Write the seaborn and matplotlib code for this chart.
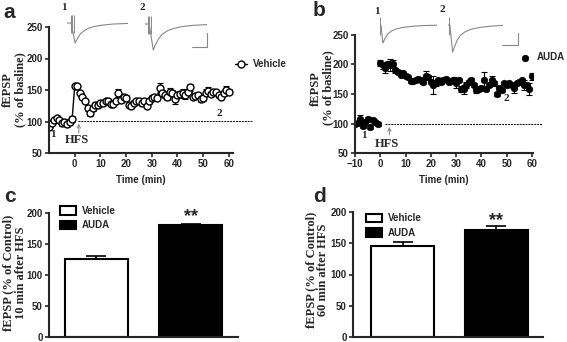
import pandas as pd
import seaborn as sns
import matplotlib.pyplot as plt

W, H = 567, 342  # figure size in pixels

# ---- panel a: Vehicle, fEPSP (% of baseline), one point per minute ----
veh_time = list(range(-10, 61))
veh_mean = [92, 97, 103, 105, 102, 97, 100, 96, 100, 104,
            156, 156, 145, 139, 132, 121, 113, 121, 126, 126,
            129, 129, 132, 132, 127, 128, 132, 145, 134, 139,
            138, 126, 125, 129, 133, 132, 129, 132, 125, 132,
            137, 139, 137, 153, 145, 142, 139, 147, 145, 135,
            142, 144, 145, 142, 147, 154, 139, 140, 142, 135,
            137, 146, 149, 144, 147, 147, 142, 139, 145, 150, 147]
veh_sem = [5, 3, 3, 3, 3, 4, 4, 5, 4, 4,
           3, 3, 3, 3, 3, 4, 4, 4, 3, 3,
           3, 3, 3, 3, 3, 3, 3, 6, 4, 5,
           4, 3, 3, 3, 3, 4, 4, 4, 4, 4,
           4, 3, 3, 8, 5, 5, 5, 6, 5, 8,
           5, 5, 7, 6, 5, 5, 3, 3, 4, 4,
           4, 6, 5, 4, 4, 3, 3, 3, 4, 6, 4]

# ---- panel b: AUDA ----
auda_time = list(range(-10, 61))
auda_mean = [100, 101, 108, 95, 103, 108, 94, 106, 103, 99,
             203, 199, 194, 201, 199, 201, 190, 187, 183, 185,
             180, 178, 172, 172, 173, 176, 173, 170, 181, 178,
             170, 165, 168, 173, 170, 173, 176, 170, 172, 174,
             168, 173, 159, 158, 165, 170, 173, 165, 156, 158,
             160, 173, 158, 165, 174, 168, 150, 160, 156, 168,
             166, 168, 165, 160, 168, 170, 173, 165, 166, 158, 180]
auda_sem = [3, 3, 6, 3, 3, 3, 4, 3, 3, 3,
            5, 6, 8, 5, 10, 6, 4, 3, 3, 3,
            3, 3, 3, 3, 3, 3, 3, 3, 8, 4,
            3, 15, 5, 3, 3, 3, 3, 3, 3, 4,
            8, 3, 5, 8, 5, 3, 4, 3, 4, 3,
            4, 15, 3, 3, 6, 4, 3, 3, 3, 3,
            4, 3, 3, 8, 3, 3, 3, 8, 3, 10, 6]

# ---- panels c/d: summary bars ----
groups = ['Vehicle', 'AUDA']
ltp10_mean = [126, 180]
ltp10_sem = [4.5, 3]
ltp60_mean = [145, 172]
ltp60_sem = [7, 6]

# ---- example fEPSP traces (arbitrary units) ----
trace_a_t = [0, 4, 6, 8, 10, 13, 17, 22, 28, 36, 46, 60]
trace_a1_v = [0, 0, -0.5, -1.0, -0.8, -0.55, -0.38, -0.25, -0.16, -0.1, -0.05, -0.02]
trace_a2_v = [0, 0, -0.65, -1.3, -1.05, -0.75, -0.5, -0.33, -0.22, -0.13, -0.07, -0.03]
trace_b_t = [0, 1, 3, 5, 8, 12, 17, 24, 33, 45, 60]
trace_b1_v = [0, 0, -0.9, -0.7, -0.45, -0.3, -0.2, -0.12, -0.07, -0.03, -0.01]
trace_b2_t = [0, 2, 5, 7, 10, 14, 19, 26, 35, 46, 60]
trace_b2_v = [0, 0, -1.35, -1.1, -0.75, -0.5, -0.33, -0.2, -0.12, -0.06, -0.02]

sns.set_style("ticks")
plt.rcParams['font.family'] = ['Liberation Sans', 'DejaVu Sans']
plt.rcParams['font.weight'] = 'bold'
serif = dict(family='Liberation Serif', weight='bold')


def box(x0, y0, x1, y1):
    return [x0 / W, 1 - y1 / H, (x1 - x0) / W, (y1 - y0) / H]


def style(ax):
    sns.despine(ax=ax)
    for s in ['left', 'bottom']:
        ax.spines[s].set_linewidth(1.5)
    ax.tick_params(direction='out', length=3, width=1.2, labelsize=7, pad=1.5)
    for lab in ax.get_xticklabels() + ax.get_yticklabels():
        lab.set_fontweight('bold')


fig = plt.figure(figsize=(W / 100, H / 100), dpi=100)
ax_a = fig.add_axes(box(49, 27, 233, 153))
ax_b = fig.add_axes(box(355, 35, 533, 153))
ax_c = fig.add_axes(box(49, 213, 238, 337))
ax_d = fig.add_axes(box(353, 212, 543, 337))

# panel a
veh = pd.DataFrame({'time': veh_time, 'fepsp': veh_mean})
ax_a.errorbar(veh_time, veh_mean, yerr=veh_sem, fmt='none', ecolor='black',
              elinewidth=0.8, capsize=2, capthick=0.8, zorder=1)
sns.lineplot(data=veh, x='time', y='fepsp', ax=ax_a, color='black', lw=1,
             marker='o', markersize=5, markerfacecolor='white',
             markeredgecolor='black', markeredgewidth=1, label='Vehicle', zorder=2)
ax_a.set_xlim(-10, 61.6)
ax_a.set_ylim(50, 250)
ax_a.set_xticks(range(0, 61, 10))
ax_a.set_yticks(range(50, 251, 50))
ax_a.plot([1.2, 69], [101, 101], ls=(0, (2, 1)), lw=0.7, color='black', clip_on=False)
ax_a.annotate('', xy=(1.6, 101), xytext=(1.6, 77),
              arrowprops=dict(arrowstyle='->', color='gray', lw=0.7, mutation_scale=6))
ax_a.text(1.0, 71, 'HFS', ha='center', va='center', fontsize=9, **serif)
ax_a.text(-8.5, 80, '1', ha='center', va='center', fontsize=8, **serif)
ax_a.text(56.4, 112, '2', ha='center', va='center', fontsize=8, **serif)
ax_a.legend(loc='center left', bbox_to_anchor=(1.01, 0.706), frameon=False,
            fontsize=7, handlelength=1.3, handletextpad=0.6, borderpad=0,
            borderaxespad=0)
ax_a.set_xlabel('Time (min)', fontsize=7, fontweight='bold', labelpad=4)
ax_a.set_ylabel('fEPSP\n(% of basline)', fontsize=9, linespacing=1.05, **serif)
ax_a.yaxis.set_label_coords(-0.125, 0.5)
style(ax_a)

# panel b
auda = pd.DataFrame({'time': auda_time, 'fepsp': auda_mean})
ax_b.errorbar(auda_time, auda_mean, yerr=auda_sem, fmt='none', ecolor='black',
              elinewidth=0.8, capsize=2, capthick=0.8, zorder=1)
sns.scatterplot(data=auda, x='time', y='fepsp', ax=ax_b, color='black', s=22,
                edgecolor='black', linewidth=0.5, label='AUDA', zorder=2)
ax_b.set_xlim(-10, 60.4)
ax_b.set_ylim(50, 250)
ax_b.set_xticks(range(-10, 61, 10))
ax_b.set_yticks(range(50, 251, 50))
ax_b.plot([2, 64], [99, 99], ls=(0, (2, 1)), lw=0.7, color='black', clip_on=False)
ax_b.annotate('', xy=(3.6, 99), xytext=(3.6, 76),
              arrowprops=dict(arrowstyle='->', color='gray', lw=0.7, mutation_scale=6))
ax_b.text(2.8, 66, 'HFS', ha='center', va='center', fontsize=9, **serif)
ax_b.text(-6.3, 80, '1', ha='center', va='center', fontsize=8, **serif)
ax_b.text(50, 142, '2', ha='center', va='center', fontsize=8, **serif)
ax_b.legend(loc='center left', bbox_to_anchor=(0.92, 0.81), frameon=False,
            fontsize=7, handlelength=1.2, handletextpad=0.6, borderpad=0,
            borderaxespad=0)
ax_b.set_xlabel('Time (min)', fontsize=7, fontweight='bold', labelpad=4)
ax_b.set_ylabel('fEPSP\n(% of basline)', fontsize=9, linespacing=1.05, **serif)
ax_b.yaxis.set_label_coords(-0.118, 0.55)
style(ax_b)

# panels c and d
for ax, means, sems, ylab, leg_anchor, star_y, xl in [
        (ax_c, ltp10_mean, ltp10_sem, 'fEPSP (% of Control)\n10 min after HFS',
         (0.06, 1.06), 194, (-0.5, 1.5)),
        (ax_d, ltp60_mean, ltp60_sem, 'fEPSP (% of Control)\n60 min after HFS',
         (0.07, 0.99), 186, (-0.53, 1.5))]:
    bars = pd.DataFrame({'group': groups, 'value': means})
    sns.barplot(data=bars, x='group', y='value', hue='group', order=groups,
                hue_order=groups, palette=['white', 'black'], edgecolor='black',
                linewidth=1.5, width=0.67, errorbar=None, legend=True, ax=ax)
    ax.errorbar([0, 1], means, yerr=[[0, 0], sems], fmt='none', ecolor='black',
                elinewidth=1.2, capsize=7, capthick=1.2, zorder=3)
    ax.text(1, star_y, '**', ha='center', va='center', fontsize=13)
    ax.set_ylim(0, 200)
    ax.set_xlim(*xl)
    ax.set_yticks(range(0, 201, 50))
    ax.set_xticks([])
    ax.set_xlabel('')
    ax.set_ylabel(ylab, fontsize=9, linespacing=1.05, **serif)
    sns.move_legend(ax, 'upper left', bbox_to_anchor=leg_anchor, frameon=False,
                    title=None, fontsize=7, handlelength=1.6, handleheight=1.0,
                    handletextpad=0.6, borderpad=0, borderaxespad=0, labelspacing=0.5)
    style(ax)
    ax.tick_params(axis='x', length=0)
ax_c.yaxis.set_label_coords(-0.116, 0.52)
ax_d.yaxis.set_label_coords(-0.125, 0.54)

# example traces
for b, t, v, art in [((67, 13, 128, 53), trace_a_t, trace_a1_v, [3.5, 5, 6.5]),
                     ((145, 14, 207, 54), trace_a_t, trace_a2_v, [2.5, 4, 5.5]),
                     ((380, 15, 437, 55), trace_b_t, trace_b1_v, [0.5]),
                     ((448, 15, 503, 55), trace_b2_t, trace_b2_v, [0.8])]:
    tx = fig.add_axes(box(*b))
    tx.plot(t, v, color='#888888', lw=0.8)
    tx.vlines(art, -0.5, 0.4, color='#888888', lw=0.7)
    tx.set_xlim(0, 60)
    tx.set_ylim(-1.5, 0.5)
    tx.axis('off')

# overlay for labels and scale bars (pixel coordinates)
ov = fig.add_axes([0, 0, 1, 1])
ov.set_xlim(0, W)
ov.set_ylim(H, 0)
ov.axis('off')
ov.patch.set_alpha(0)
ov.plot([192, 207, 207], [47, 47, 33], color='#888888', lw=0.8)
ov.plot([502, 518, 518], [45, 45, 33], color='#888888', lw=0.8)
for x, y, s in [(64, 8, '1'), (142, 7, '2'), (377, 11, '1'), (442, 9, '2')]:
    ov.text(x, y, s, ha='center', va='center', fontsize=8, **serif)
for x, y, s in [(9, 12, 'a'), (319, 11, 'b'), (10, 197, 'c'), (320, 197, 'd')]:
    ov.text(x, y, s, ha='center', va='center', fontsize=15, weight='bold')

fig.savefig('out.png', dpi=100)
